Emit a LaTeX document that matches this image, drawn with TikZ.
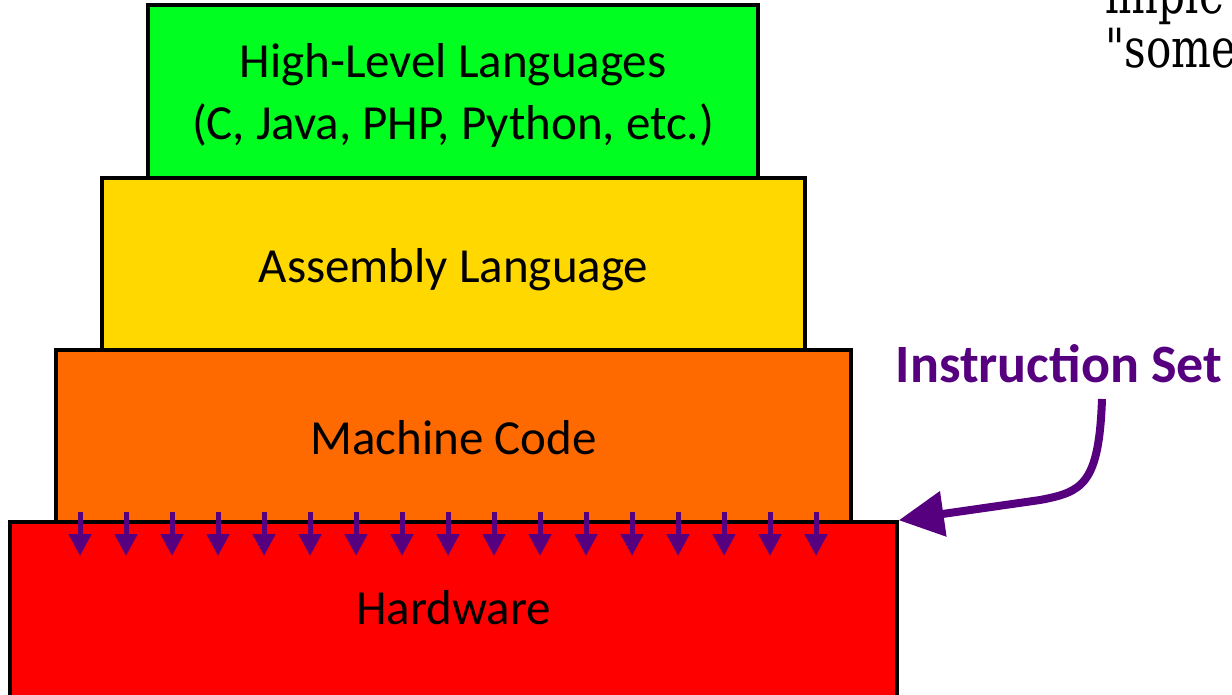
\documentclass[tikz,border=0pt]{standalone}
\usepackage{fontspec}
\usepackage{graphicx}
\setmainfont{Carlito}
\newfontfamily\pagefont{DejaVu Serif}
\usetikzlibrary{arrows.meta}

\definecolor{hllgreen}{RGB}{0,255,33}
\definecolor{asmyellow}{RGB}{255,216,0}
\definecolor{mcorange}{RGB}{255,106,0}
\definecolor{hwred}{RGB}{255,0,0}
\definecolor{isetpurple}{RGB}{87,0,127}

\begin{document}
\begin{tikzpicture}[x=1pt, y=-1pt,
  layer/.style = {draw, line width=3.5pt, rectangle, inner sep=0pt,
    font=\fontsize{49}{62}\selectfont, text height=36pt, text depth=0pt},
  tick/.style = {-{Triangle[length=22pt, width=22pt]}, line width=5pt, draw=isetpurple},
  pointer/.style = {-{Triangle[length=45pt, width=44pt]}, line width=8pt, draw=isetpurple}]
  \useasboundingbox (0,0) rectangle (1232,694);
  \clip (0,0) rectangle (1232,694);

  \node (hll) [layer, align=center, text height=95pt, fill=hllgreen, minimum width=610, minimum height=173]
    at (453,91.5) {High-Level Languages\\(C, Java, PHP, Python, etc.)};
  \node (asm) [layer, fill=asmyellow, minimum width=703, minimum height=172] at (453.5,264)
    {Assembly Language};
  \node (mc) [layer, fill=mcorange, minimum width=795, minimum height=172] at (453.5,436)
    {Machine Code};
  \node (hw) [layer, text height=26pt, fill=hwred, minimum width=887, minimum height=178] at (453.5,611)
    {Hardware};

  \foreach \i in {0,...,16}
    \draw [tick] (80+46*\i,512) -- (80+46*\i,556);

  \node (iset) [font=\bfseries\fontsize{54}{60}\selectfont, text=isetpurple, anchor=base] at (1059,382)
    {Instruction Set};
  \coordinate (isetfoot) at (1102,399);
  \draw [pointer] (isetfoot) .. controls (1099,485) and (1082,492) .. (1040,500) -- (hw.north east);

  \node (webtext) [font=\pagefont\fontsize{54}{54}\selectfont, align=left, inner sep=0pt,
    anchor=base west] at (1105,67) {\scalebox{0.78}[1]{imple}\\\scalebox{0.78}[1]{"some}};
\end{tikzpicture}
\end{document}
